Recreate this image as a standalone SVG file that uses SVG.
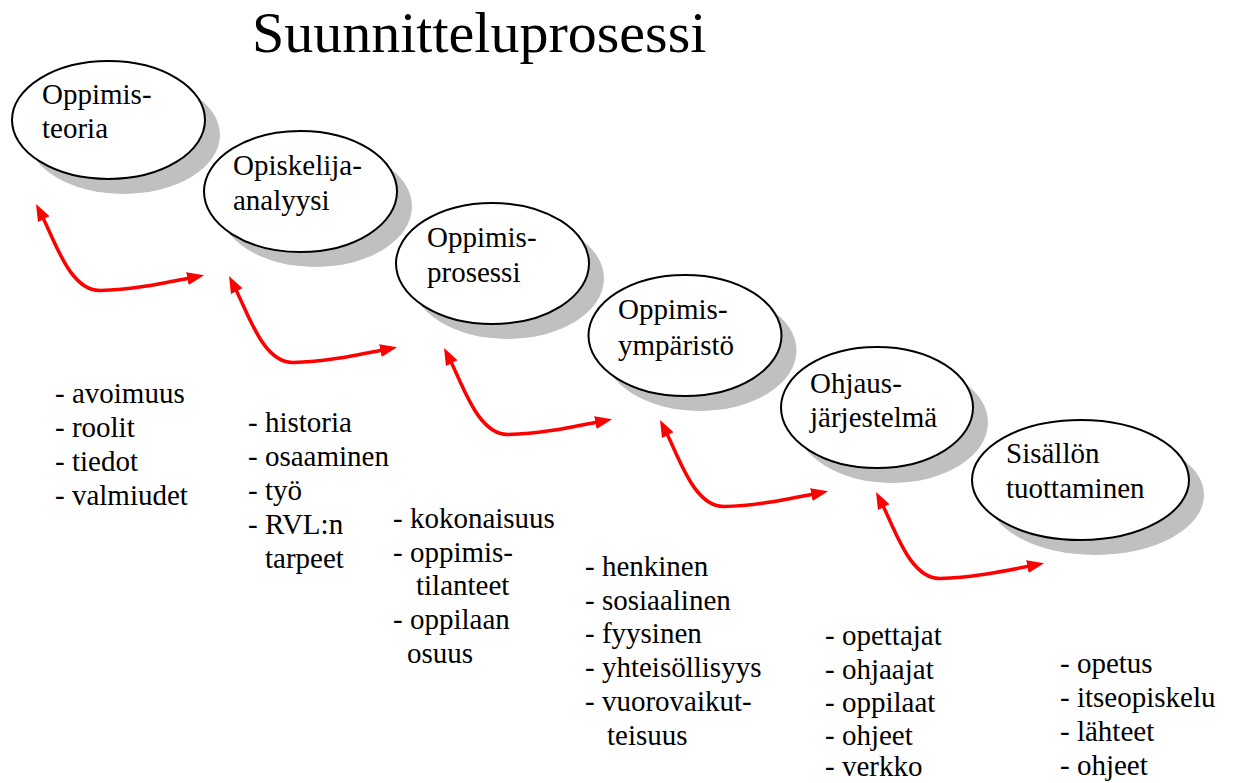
<svg xmlns="http://www.w3.org/2000/svg" width="1238" height="783" viewBox="0 0 1238 783">
<style>
.sh{fill:#c0c0c0;stroke:none}
.el{fill:#fff;stroke:#000;stroke-width:2}
.t{font-family:"Liberation Serif",serif;font-size:29px;fill:#000}
.b{font-family:"Liberation Serif",serif;font-size:29px;fill:#000}
.ttl{font-family:"Liberation Serif",serif;font-size:58px;fill:#000}
.ar{fill:none;stroke:#ff0000;stroke-width:3.5}
</style>
<defs>
<marker id="ah" markerUnits="userSpaceOnUse" markerWidth="18" markerHeight="14" refX="5" refY="6.5" orient="auto-start-reverse" viewBox="0 0 18 14">
<path d="M0,0 L17,6.5 L0,13 z" fill="#ff0000"/>
</marker>
</defs>
<rect width="1238" height="783" fill="#fff"/>
<text class="ttl" x="252" y="52">Suunnitteluprosessi</text>

<g id="connectors">
<path id="a1" class="ar" marker-start="url(#ah)" marker-end="url(#ah)" d="M41.5,214.7 C55,241 70,291 100,290.5 C130,290 160,284 192.3,277.6"/>
<path id="a2" class="ar" marker-start="url(#ah)" marker-end="url(#ah)" transform="translate(193,72)" d="M41.5,214.7 C55,241 70,291 100,290.5 C130,290 160,284 192.3,277.6"/>
<path id="a3" class="ar" marker-start="url(#ah)" marker-end="url(#ah)" transform="translate(408,144)" d="M41.5,214.7 C55,241 70,291 100,290.5 C130,290 160,284 192.3,277.6"/>
<path id="a4" class="ar" marker-start="url(#ah)" marker-end="url(#ah)" transform="translate(624,216)" d="M41.5,214.7 C55,241 70,291 100,290.5 C130,290 160,284 192.3,277.6"/>
<path id="a5" class="ar" marker-start="url(#ah)" marker-end="url(#ah)" transform="translate(840,288)" d="M41.5,214.7 C55,241 70,291 100,290.5 C130,290 160,284 192.3,277.6"/>
</g>

<g id="n1">
<ellipse class="sh" cx="123.5" cy="135" rx="96.5" ry="59"/>
<ellipse class="el" cx="108.5" cy="120" rx="96.5" ry="59"/>
<text class="t" x="42" y="104">Oppimis-</text>
<text class="t" x="42" y="138">teoria</text>
</g>
<g id="n2">
<ellipse class="sh" cx="315.5" cy="206.5" rx="96.5" ry="60.5"/>
<ellipse class="el" cx="300.5" cy="191.5" rx="96.5" ry="60.5"/>
<text class="t" x="233" y="175">Opiskelija-</text>
<text class="t" x="233" y="210">analyysi</text>
</g>
<g id="n3">
<ellipse class="sh" cx="507.5" cy="278.5" rx="96.5" ry="60.5"/>
<ellipse class="el" cx="492.5" cy="263.5" rx="96.5" ry="60.5"/>
<text class="t" x="427" y="247">Oppimis-</text>
<text class="t" x="427" y="282">prosessi</text>
</g>
<g id="n4">
<ellipse class="sh" cx="700" cy="350.5" rx="96.5" ry="60.5"/>
<ellipse class="el" cx="685" cy="335.5" rx="96.5" ry="60.5"/>
<text class="t" x="618" y="319">Oppimis-</text>
<text class="t" x="618" y="355">ympäristö</text>
</g>
<g id="n5">
<ellipse class="sh" cx="892" cy="422.5" rx="96" ry="60.5"/>
<ellipse class="el" cx="877" cy="407.5" rx="96" ry="60.5"/>
<text class="t" x="810" y="393">Ohjaus-</text>
<text class="t" x="810" y="427">järjestelmä</text>
</g>
<g id="n6">
<ellipse class="sh" cx="1095.5" cy="495" rx="108.5" ry="60"/>
<ellipse class="el" cx="1080.5" cy="480" rx="108.5" ry="60"/>
<text class="t" x="1006" y="463">Sisällön</text>
<text class="t" x="1006" y="498">tuottaminen</text>
</g>

<g id="list1" class="b">
<text x="55" y="403">- avoimuus</text>
<text x="55" y="437">- roolit</text>
<text x="55" y="471">- tiedot</text>
<text x="55" y="505">- valmiudet</text>
</g>
<g id="list2" class="b">
<text x="248" y="432">- historia</text>
<text x="248" y="466">- osaaminen</text>
<text x="248" y="500">- työ</text>
<text x="248" y="534">- RVL:n</text>
<text x="265" y="568">tarpeet</text>
</g>
<g id="list3" class="b">
<text x="393" y="528">- kokonaisuus</text>
<text x="393" y="562">- oppimis-</text>
<text x="416" y="595">tilanteet</text>
<text x="393" y="629">- oppilaan</text>
<text x="407" y="663">osuus</text>
</g>
<g id="list4" class="b">
<text x="585" y="576">- henkinen</text>
<text x="585" y="610">- sosiaalinen</text>
<text x="585" y="643">- fyysinen</text>
<text x="585" y="677">- yhteisöllisyys</text>
<text x="585" y="711">- vuorovaikut-</text>
<text x="607" y="745">teisuus</text>
</g>
<g id="list5" class="b">
<text x="825" y="645">- opettajat</text>
<text x="825" y="679">- ohjaajat</text>
<text x="825" y="712">- oppilaat</text>
<text x="825" y="745">- ohjeet</text>
<text x="825" y="776">- verkko</text>
</g>
<g id="list6" class="b">
<text x="1060" y="673">- opetus</text>
<text x="1060" y="707">- itseopiskelu</text>
<text x="1060" y="741">- lähteet</text>
<text x="1060" y="775">- ohjeet</text>
</g>
</svg>
